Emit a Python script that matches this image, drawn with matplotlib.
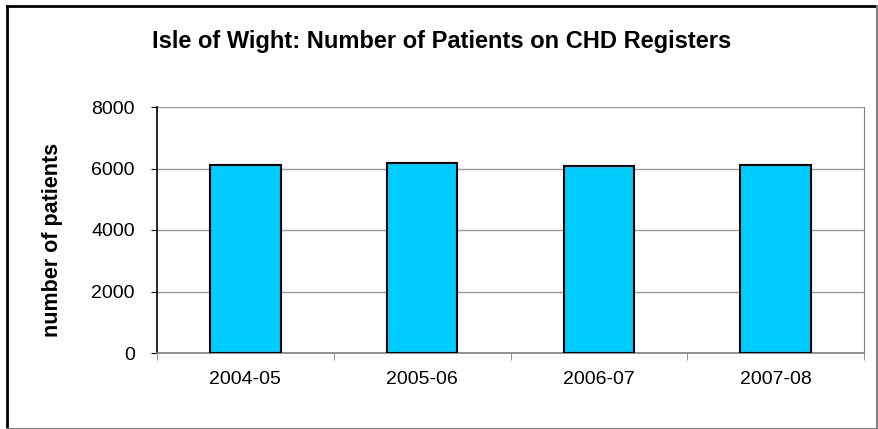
import matplotlib.pyplot as plt
from matplotlib.lines import Line2D

# Data
years = ["2004-05", "2005-06", "2006-07", "2007-08"]
patients = [6120, 6180, 6090, 6120]
y_ticks = [0, 2000, 4000, 6000, 8000]

plt.rcParams["font.family"] = ["Liberation Sans", "DejaVu Sans"]


def main():
    fig = plt.figure(figsize=(8.79, 4.29), dpi=100)
    ax = fig.add_axes([157 / 879, 1 - 353 / 429, 707 / 879, 246 / 429])

    x = list(range(len(years)))
    ax.bar(x, patients, width=0.40, color="#00CCFF", edgecolor="black",
           linewidth=1.5, zorder=3)

    ax.set_xlim(-0.5, len(years) - 0.5)
    ax.set_ylim(0, 8000)
    ax.set_yticks(y_ticks)
    ax.set_yticklabels([str(v) for v in y_ticks], fontsize=14)
    ax.set_xticks(x)
    ax.set_xticklabels(years, fontsize=14)
    ax.tick_params(axis="x", length=0, pad=13)
    ax.set_xticks([i - 0.5 for i in range(len(years) + 1)], minor=True)
    ax.tick_params(axis="x", which="minor", length=5, color="#808080",
                   direction="out")
    ax.tick_params(axis="y", length=4, direction="out", pad=12)

    ax.grid(axis="y", color="#999999", linewidth=1, zorder=0)
    ax.spines["top"].set_visible(False)
    ax.spines["right"].set_color("#808080")
    ax.spines["bottom"].set_color("#808080")
    ax.spines["left"].set_color("black")
    ax.spines["left"].set_linewidth(1.2)
    ax.spines["bottom"].set_linewidth(1.2)

    fig.text(53 / 879, 1 - 240 / 429, "number of patients", rotation=90,
             ha="center", va="center", fontsize=15.5, fontweight="bold")

    fig.text(0.502, 1 - 48 / 429,
             "Isle of Wight: Number of Patients on CHD Registers",
             ha="center", va="baseline", fontsize=17, fontweight="bold")

    # outer chart border
    fig.lines.append(Line2D([7 / 879, 7 / 879], [0, 1 - 6 / 429],
                            transform=fig.transFigure, color="black",
                            linewidth=2))
    fig.lines.append(Line2D([7 / 879, 1], [1 - 6 / 429, 1 - 6 / 429],
                            transform=fig.transFigure, color="black",
                            linewidth=2))
    fig.lines.append(Line2D([7 / 879, 1], [0.5 / 429, 0.5 / 429],
                            transform=fig.transFigure, color="#808080",
                            linewidth=1.5))
    fig.lines.append(Line2D([877.5 / 879, 877.5 / 879], [0, 1 - 6 / 429],
                            transform=fig.transFigure, color="#808080",
                            linewidth=1.5))

    fig.savefig("out.png", dpi=100)


if __name__ == "__main__":
    main()
